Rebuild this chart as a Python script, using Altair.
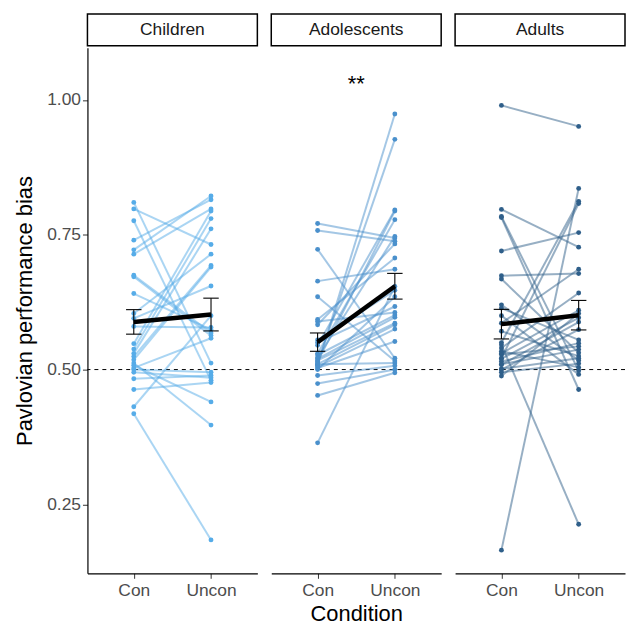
import altair as alt
import pandas as pd

# ---------------- data ----------------
groups = ["Children", "Adolescents", "Adults"]
condition_labels = ["Con", "Uncon"]

children_con = [0.810, 0.798, 0.776, 0.740, 0.722, 0.714, 0.675, 0.672, 0.641, 0.604,
                0.595, 0.580, 0.548, 0.538, 0.530, 0.524, 0.518, 0.512, 0.508, 0.503,
                0.500, 0.495, 0.483, 0.463, 0.431, 0.418]
children_uncon = [0.512, 0.732, 0.480, 0.815, 0.822, 0.798, 0.568, 0.563, 0.574, 0.714,
                  0.655, 0.578, 0.794, 0.780, 0.761, 0.693, 0.690, 0.397, 0.440, 0.558,
                  0.495, 0.485, 0.489, 0.476, 0.600, 0.184]

adolescents_con = [0.771, 0.758, 0.723, 0.664, 0.635, 0.593, 0.589, 0.583, 0.555, 0.550,
                   0.545, 0.530, 0.527, 0.522, 0.520, 0.517, 0.515, 0.512, 0.510, 0.510,
                   0.508, 0.505, 0.503, 0.500, 0.489, 0.474, 0.452, 0.364]
adolescents_uncon = [0.744, 0.738, 0.521, 0.686, 0.516, 0.707, 0.606, 0.733, 0.647, 0.617,
                     0.796, 0.778, 0.601, 0.747, 0.597, 0.586, 0.794, 0.927, 0.583, 0.512,
                     0.974, 0.575, 0.552, 0.635, 0.507, 0.500, 0.494, 0.654]

adults_con = [0.990, 0.797, 0.784, 0.782, 0.720, 0.674, 0.668, 0.620, 0.614, 0.600,
              0.586, 0.571, 0.550, 0.546, 0.540, 0.534, 0.530, 0.528, 0.521, 0.520,
              0.515, 0.510, 0.509, 0.501, 0.500, 0.495, 0.488, 0.165]
adults_uncon = [0.951, 0.727, 0.498, 0.463, 0.754, 0.678, 0.531, 0.517, 0.555, 0.491,
                0.686, 0.525, 0.812, 0.213, 0.642, 0.504, 0.610, 0.543, 0.808, 0.596,
                0.549, 0.537, 0.588, 0.521, 0.574, 0.511, 0.604, 0.836]

group_data = {
    "Children": (children_con, children_uncon),
    "Adolescents": (adolescents_con, adolescents_uncon),
    "Adults": (adults_con, adults_uncon),
}
group_colors = {"Children": "#56ACE8", "Adolescents": "#4A90CC", "Adults": "#2F5F8A"}
significance = {"Adolescents": "**"}
significance_y = 1.03
reference_level = 0.5
y_ticks = [0.25, 0.50, 0.75, 1.00]

# ---------------- layout / style ----------------
Y_DOMAIN = [0.122, 1.097]
X_DOMAIN = [0.4, 2.6]
W, H = 171, 529
STRIP = 32
FONT = "Liberation Sans"
TICK_FS = 17.5
TITLE_FS = 22


def long_frame(g):
    con, uncon = group_data[g]
    rows = []
    for i, (a, b) in enumerate(zip(con, uncon)):
        rows.append({"subj": f"{g}_{i}", "x": 1, "value": a})
        rows.append({"subj": f"{g}_{i}", "x": 2, "value": b})
    return pd.DataFrame(rows)


def panel(g, show_y, show_xtitle):
    df = long_frame(g)
    color = group_colors[g]
    xscale = alt.Scale(domain=X_DOMAIN, nice=False, zero=False)
    yscale = alt.Scale(domain=Y_DOMAIN, nice=False, zero=False)
    xaxis = alt.Axis(values=[1, 2],
                     labelExpr="datum.value == 1 ? '%s' : '%s'" % tuple(condition_labels),
                     grid=False, tickSize=5, labelPadding=3, domainColor="black",
                     domainWidth=1.2, tickColor="#333333", labelFontSize=TICK_FS,
                     labelColor="#4D4D4D", titleFontSize=TITLE_FS, titleFontWeight="normal",
                     titleColor="black", titlePadding=5,
                     title="Condition" if show_xtitle else "")
    yaxis = alt.Axis(values=y_ticks, format=".2f", grid=False, tickSize=5,
                     labelPadding=2, domainColor="black", domainWidth=1.2,
                     tickColor="#333333", labelFontSize=TICK_FS, labelColor="#4D4D4D",
                     title="Pavlovian performance bias", titleFontSize=TITLE_FS,
                     titleFontWeight="normal", titleColor="black", titlePadding=10)

    def X(field):
        return alt.X(field, scale=xscale, axis=xaxis)

    def Y(field):
        if show_y:
            return alt.Y(field, scale=yscale, axis=yaxis)
        return alt.Y(field, scale=yscale, axis=None)

    base = alt.Chart(df)
    lines = base.mark_line(color=color, strokeWidth=2, opacity=0.5).encode(
        x=X("x:Q"), y=Y("value:Q"), detail="subj:N")
    points = base.mark_circle(color=color, size=24, opacity=1).encode(
        x=X("x:Q"), y=Y("value:Q"))
    hline = alt.Chart(pd.DataFrame({"value": [reference_level]})).mark_rule(
        color="black", strokeDash=[4, 4], strokeWidth=1).encode(y=Y("value:Q"))

    agg = base.transform_aggregate(
        m="mean(value)", se="stderr(value)", groupby=["x"]
    ).transform_calculate(
        lo="datum.m - datum.se", hi="datum.m + datum.se",
        xl="datum.x - 0.1", xr="datum.x + 0.1")
    mean_line = agg.mark_line(color="black", strokeWidth=4.5).encode(
        x=X("x:Q"), y=Y("m:Q"))
    err_v = agg.mark_rule(color="black", strokeWidth=1.1).encode(
        x=X("x:Q"), y=Y("lo:Q"), y2="hi:Q")
    cap_lo = agg.mark_rule(color="black", strokeWidth=1.1).encode(
        x=X("xl:Q"), x2="xr:Q", y=Y("lo:Q"))
    cap_hi = agg.mark_rule(color="black", strokeWidth=1.1).encode(
        x=X("xl:Q"), x2="xr:Q", y=Y("hi:Q"))

    layers = [hline, lines, points, err_v, cap_lo, cap_hi, mean_line]
    if g in significance:
        sig_df = pd.DataFrame({"x": [1.5], "value": [significance_y], "label": [significance[g]]})
        sig = alt.Chart(sig_df).mark_text(fontSize=22, font=FONT, color="black",
                                          baseline="middle").encode(
            x=X("x:Q"), y=Y("value:Q"), text="label:N")
        layers.append(sig)
    plot = alt.layer(*layers).properties(width=W, height=H)

    strip = alt.Chart(pd.DataFrame({"g": [g]})).mark_text(
        fontSize=TICK_FS, font=FONT, color="#1A1A1A", baseline="middle", align="center"
    ).encode(text="g:N").properties(
        width=W, height=STRIP,
        view=alt.ViewBackground(stroke="black", strokeWidth=1.5, fill="white"))
    return alt.vconcat(strip, plot, spacing=0)


chart = alt.hconcat(
    panel("Children", True, False),
    panel("Adolescents", False, True),
    panel("Adults", False, False),
    spacing=12,
).properties(
    padding={"left": 13, "top": 11, "right": 0, "bottom": 0}
).configure(font=FONT).configure_view(stroke="transparent")

chart.save("out.html", embed_options={"renderer": "svg", "actions": False})
